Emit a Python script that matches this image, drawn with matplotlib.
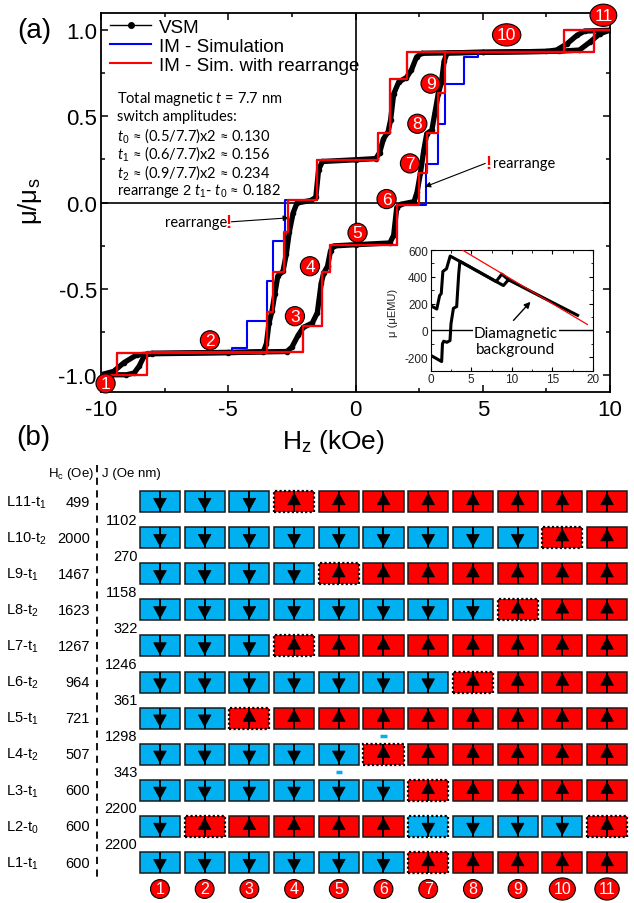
import numpy as np
import matplotlib.pyplot as plt
from matplotlib.patches import Rectangle, Polygon
from matplotlib.lines import Line2D
from matplotlib.ticker import MultipleLocator, FormatStrFormatter

plt.rcParams['font.family'] = ['Liberation Sans', 'DejaVu Sans']
plt.rcParams['axes.unicode_minus'] = False
plt.rcParams['mathtext.fontset'] = 'custom'
plt.rcParams['mathtext.rm'] = 'Liberation Sans'
plt.rcParams['mathtext.it'] = 'Lato:italic'
plt.rcParams['mathtext.sf'] = 'Liberation Sans'

# ---------------- panel (a) data ----------------
# VSM loop, field increasing (kOe) and normalized moment
vsm_h_up = [-10, -9.0, -8.7, -8.5, -8.3, -8.0, -5.0, -2.7, -2.5, -2.25, -2.05, -1.7, -1.5,
            -1.35, -1.25, -1.1, -0.98, -0.85, 0.0, 1.35, 1.5, 1.62, 1.8, 2.3, 2.42, 2.55,
            2.68, 2.8, 3.0, 3.12, 3.25, 3.38, 3.48, 3.6, 5.0, 8.0, 8.8, 9.2, 9.6, 10.0]
vsm_m_up = [-1.0, -1.0, -0.99, -0.95, -0.89, -0.875, -0.87, -0.865, -0.84, -0.77, -0.725,
            -0.70, -0.64, -0.47, -0.41, -0.37, -0.28, -0.252, -0.245, -0.235, -0.19, -0.03,
            -0.01, 0.005, 0.06, 0.17, 0.30, 0.40, 0.42, 0.52, 0.63, 0.70, 0.82, 0.868, 0.872,
            0.878, 0.885, 0.93, 0.98, 1.0]
# VSM loop, field decreasing
vsm_h_dn = [10, 9.0, 8.7, 8.3, 7.9, 7.5, 5.0, 2.6, 2.4, 2.2, 2.0, 1.7, 1.5, 1.38, 1.28, 1.1,
            0.95, 0.8, 0.0, -1.3, -1.45, -1.56, -1.75, -2.3, -2.45, -2.6, -2.72, -2.85, -3.05,
            -3.17, -3.28, -3.4, -3.5, -3.62, -5.0, -8.0, -8.6, -9.1, -9.5, -10.0]
vsm_m_dn = [1.0, 0.995, 0.97, 0.92, 0.885, 0.877, 0.872, 0.866, 0.845, 0.77, 0.725, 0.70,
            0.63, 0.48, 0.41, 0.37, 0.29, 0.255, 0.248, 0.238, 0.19, 0.03, 0.012, -0.003,
            -0.06, -0.17, -0.30, -0.40, -0.425, -0.53, -0.63, -0.70, -0.82, -0.866, -0.872,
            -0.878, -0.885, -0.93, -0.98, -1.0]

# IM simulation (step curves)
sim_h_up = [-10, -8.2, -2.06, -1.33, -1.0, 1.62, 2.77, 3.23, 3.52, 4.26, 4.8, 9.37, 10]
sim_m_up = [-1.0, -0.87, -0.714, -0.402, -0.246, -0.012, 0.222, 0.456, 0.69, 0.846, 0.872, 1.0, 1.0]
sim_h_dn = [10, 8.2, 2.02, 1.36, 0.89, -1.52, -2.77, -3.23, -3.49, -4.28, -4.84, -9.38, -10]
sim_m_dn = [1.0, 0.872, 0.714, 0.402, 0.246, 0.012, -0.222, -0.456, -0.69, -0.846, -0.872, -1.0, -1.0]

# IM simulation with rearrange
rea_h_up = [-10, -8.2, -2.06, -1.33, -1.0, 1.62, 2.5, 2.8, 3.24, 3.52, 9.37, 10]
rea_m_up = [-1.0, -0.87, -0.714, -0.402, -0.246, -0.012, 0.17, 0.404, 0.638, 0.872, 1.0, 1.0]
rea_h_dn = [10, 8.2, 2.02, 1.36, 0.89, -1.52, -2.65, -2.82, -3.25, -3.47, -9.38, -10]
rea_m_dn = [1.0, 0.872, 0.714, 0.402, 0.246, 0.012, -0.17, -0.404, -0.638, -0.872, -1.0, -1.0]

# numbered states on the loop
state_h = [-9.82, -5.72, -2.38, -1.79, 0.08, 1.22, 2.14, 2.43, 2.95, 5.94, 9.74]
state_m = [-1.05, -0.80, -0.66, -0.37, -0.176, 0.02, 0.227, 0.457, 0.69, 0.973, 1.087]

# inset: raw moment (uEMU) vs field (kOe)
ins_h_a = [0.0, 0.75, 1.1, 1.3, 1.5, 1.95, 2.4, 5.0, 8.06, 8.96, 9.58, 14.0, 18.1]
ins_m_a = [185, 160, 260, 275, 440, 460, 555, 468, 365, 335, 378, 240, 113]
ins_h_b = [0.0, 1.35, 1.45, 1.6, 2.0, 2.38, 2.5, 2.8, 3.2, 3.45, 3.6, 8.06, 8.76, 9.58]
ins_m_b = [-185, -232, -100, -80, -88, -75, 50, 165, 178, 420, 516, 365, 420, 378]
bg_h = [3.9, 19.3]
bg_m = [600, 45]

text_lines = ['Total magnetic $\\mathit{t}$ = 7.7 nm',
              'switch amplitudes:',
              '$\\mathit{t_0}$ \u2248 (0.5/7.7)x2 \u2248 0.130',
              '$\\mathit{t_1}$ \u2248 (0.6/7.7)x2 \u2248 0.156',
              '$\\mathit{t_2}$ \u2248 (0.9/7.7)x2 \u2248 0.234',
              'rearrange $\\mathit{2\\ t_1}$- $\\mathit{t_0}$ \u2248 0.182']

# ---------------- panel (b) data ----------------
layer_t = ['1', '0', '1', '2', '1', '2', '1', '2', '1', '2', '1']  # L1 .. L11
hc = [600, 600, 600, 507, 721, 964, 1267, 1623, 1467, 2000, 499]
jex = [2200, 2200, 343, 1298, 361, 1246, 322, 1158, 270, 1102]  # between L(i) and L(i+1)
states = ['DDDDDDUUUUU',
          'DUUUUUDDDDU',
          'DDDDDDUUUUU',
          'DDDDDUUUUUU',
          'DDUUUUUUUUU',
          'DDDDDDDUUUU',
          'DDDUUUUUUUU',
          'DDDDDDDDUUU',
          'DDDDUUUUUUU',
          'DDDDDDDDDUU',
          'DDDUUUUUUUU']
minus_marks = [(4, 6), (3, 5)]  # (layer, state)

RED = '#FF0000'
CYAN = '#00B0F0'
BLUE = '#0000FF'

fig = plt.figure(figsize=(6.34, 9.04), dpi=100)
W, H = 634, 904


def fig_rect(x0, y0, x1, y1):
    return [x0 / W, 1 - y1 / H, (x1 - x0) / W, (y1 - y0) / H]


# ---------------- panel (a) ----------------
ax = fig.add_axes(fig_rect(101, 14, 610, 393))
ax.set_xlim(-10, 10)
ax.set_ylim(-1.1, 1.1)
ax.axhline(0, color='k', lw=1.2, zorder=1)
ax.axvline(0, color='k', lw=1.2, zorder=1)

ax.plot(vsm_h_up, vsm_m_up, '-o', color='k', lw=3.8, ms=3, zorder=2)
ax.plot(vsm_h_dn, vsm_m_dn, '-o', color='k', lw=3.8, ms=3, zorder=2)
ax.step(sim_h_up, sim_m_up, where='post', color=BLUE, lw=1.5, zorder=3)
ax.step(sim_h_dn, sim_m_dn, where='post', color=BLUE, lw=1.5, zorder=3)
ax.step(rea_h_up, rea_m_up, where='post', color=RED, lw=1.6, zorder=4)
ax.step(rea_h_dn, rea_m_dn, where='post', color=RED, lw=1.6, zorder=4)

for i, (x, y) in enumerate(zip(state_h, state_m)):
    n = i + 1
    style = 'circle,pad=0.12' if n < 10 else 'ellipse,pad=0.02'
    ax.text(x, y, str(n), ha='center', va='center', color='white', fontsize=12.5,
            zorder=6, clip_on=False,
            bbox=dict(boxstyle=style, fc=RED, ec='k', lw=0.8))

ax.xaxis.set_major_locator(MultipleLocator(5))
ax.xaxis.set_minor_locator(MultipleLocator(2.5))
ax.yaxis.set_major_locator(MultipleLocator(0.5))
ax.yaxis.set_minor_locator(MultipleLocator(0.25))
ax.yaxis.set_major_formatter(FormatStrFormatter('%.1f'))
ax.tick_params(which='both', direction='in', top=True, right=True, width=1.1,
               labelsize=16)
ax.tick_params(which='major', length=5)
ax.tick_params(which='minor', length=3.2)
ax.tick_params(axis='x', pad=5)
ax.tick_params(axis='y', pad=3)
for s in ax.spines.values():
    s.set_linewidth(1.3)

ax.text(-0.14, 0.507, '\u03bc/\u03bc$_\\mathrm{s}$', transform=ax.transAxes, rotation=90,
        ha='center', va='center', fontsize=18.5)
ax.text(0.456, -0.128, 'H$_\\mathrm{z}$ (kOe)', transform=ax.transAxes,
        ha='center', va='center', fontsize=19)

handles = [Line2D([], [], color='k', lw=1, marker='o', ms=4),
           Line2D([], [], color=BLUE, lw=1.5),
           Line2D([], [], color=RED, lw=1.5)]
ax.legend(handles, ['VSM', 'IM - Simulation', 'IM - Sim. with rearrange'],
          loc='upper left', bbox_to_anchor=(0.018, 0.985), frameon=False,
          fontsize=13.5, handlelength=2.2, handletextpad=0.4, labelspacing=0.1,
          borderpad=0, borderaxespad=0)

for i, line in enumerate(text_lines):
    py = 98.5 + i * 18.4
    ax.text((117 - 101) / 509, (393 - py) / 379, line, transform=ax.transAxes,
            ha='left', va='center', fontsize=10.5, family=['Lato', 'DejaVu Sans'])

# rearrange annotations
ax.text(-5.05, -0.116, 'rearrange', ha='right', va='center', fontsize=10.5,
        family=['Lato', 'DejaVu Sans'])
ax.text(-4.98, -0.118, '!', ha='center', va='center', fontsize=13, color=RED,
        fontweight='bold')
ax.annotate('', xy=(-2.62, -0.089), xytext=(-4.88, -0.112),
            arrowprops=dict(arrowstyle='-|>', color='k', lw=0.8, mutation_scale=8,
                            shrinkA=0, shrinkB=0))
ax.text(5.22, 0.228, '!', ha='center', va='center', fontsize=13, color=RED,
        fontweight='bold')
ax.text(5.39, 0.232, 'rearrange', ha='left', va='center', fontsize=10.5,
        family=['Lato', 'DejaVu Sans'])
ax.annotate('', xy=(2.73, 0.091), xytext=(5.1, 0.227),
            arrowprops=dict(arrowstyle='-|>', color='k', lw=0.8, mutation_scale=8,
                            shrinkA=0, shrinkB=0))

# inset
axin = fig.add_axes(fig_rect(430.7, 251, 593, 371.7))
axin.set_xlim(0, 20)
axin.set_ylim(-300, 600)
axin.axhline(0, color='k', lw=1, zorder=1)
axin.plot(ins_h_a, ins_m_a, '-', color='k', lw=2.2, zorder=3)
axin.plot(ins_h_b, ins_m_b, '-', color='k', lw=2.2, zorder=3)
axin.plot(bg_h, bg_m, '-', color=RED, lw=0.9, zorder=4)
axin.xaxis.set_major_locator(MultipleLocator(5))
axin.xaxis.set_minor_locator(MultipleLocator(2.5))
axin.yaxis.set_major_locator(MultipleLocator(200))
axin.yaxis.set_minor_locator(MultipleLocator(100))
axin.tick_params(which='both', direction='in', top=True, right=True, labelsize=8.5,
                 labelcolor='#222222', pad=2)
axin.tick_params(which='major', length=3)
axin.tick_params(which='minor', length=1.8)
axin.text(10.5, -78, 'Diamagnetic\nbackground', ha='center', va='center', fontsize=11,
          family=['Lato', 'DejaVu Sans'], linespacing=1.25, zorder=5,
          bbox=dict(fc='white', ec='none', pad=1))
axin.annotate('', xy=(12.3, 214), xytext=(10.2, 75),
              arrowprops=dict(arrowstyle='-|>', color='k', lw=1, mutation_scale=9,
                              shrinkA=0, shrinkB=0))
axin.text(-0.232, 0.49, '\u03bc (\u03bcEMU)', transform=axin.transAxes, rotation=90,
          ha='center', va='center', fontsize=8, color='#222222')

fig.text(34 / W, 1 - 31 / H, '(a)', ha='center', va='center', fontsize=20)
fig.text(33 / W, 1 - 438 / H, '(b)', ha='center', va='center', fontsize=20)

# ---------------- panel (b) ----------------
axb = fig.add_axes(fig_rect(137.6, 484.5, 629.4, 881.6))
axb.set_xlim(0.5, 11.5)
axb.set_ylim(0.5, 11.5)
axb.axis('off')


def bx(px):
    return 0.5 + (px - 137.6) / 44.7


def by(py):
    return 0.5 + (881.6 - py) / 36.1


bw, bh = 0.895, 0.58
hw, hh = 0.142, 0.32
for li, row in enumerate(states):
    r = li + 1
    for ci, s in enumerate(row):
        c = ci + 1
        switched = ci > 0 and row[ci - 1] != s
        fc = RED if s == 'U' else CYAN
        if switched:
            axb.add_patch(Rectangle((c - bw / 2, r - bh / 2), bw, bh, fc=fc, ec='k',
                                    lw=1.6, ls=(0, (1, 1)), zorder=2))
        else:
            axb.add_patch(Rectangle((c - bw / 2, r - bh / 2), bw, bh, fc=fc, ec='#1a1a1a',
                                    lw=1.1, zorder=2))
        axb.plot([c, c], [r - bh / 2, r + bh / 2], color='k', lw=1.4, zorder=3,
                 solid_capstyle='butt')
        if s == 'U':
            tip = r + bh / 2 - 0.06
            tri = [(c, tip), (c - hw, tip - hh), (c + hw, tip - hh)]
        else:
            tip = r - bh / 2 + 0.06
            tri = [(c, tip), (c - hw, tip + hh), (c + hw, tip + hh)]
        axb.add_patch(Polygon(tri, closed=True, fc='k', ec='k', lw=0.5, zorder=4))

    axb.text(bx(6), r, 'L%d-t$_{%s}$' % (r, layer_t[li]), ha='left', va='center',
             fontsize=10.5, clip_on=False)
    axb.text(bx(90), r, str(hc[li]), ha='right', va='center', fontsize=10.5,
             clip_on=False)

for i, j in enumerate(jex):
    axb.text(bx(137.5), i + 1.5, str(j), ha='right', va='center', fontsize=10.5,
             clip_on=False)

for layer, st in minus_marks:
    axb.plot([st - 0.07, st + 0.07], [layer + 0.5, layer + 0.5], color=CYAN, lw=2.5,
             solid_capstyle='butt', clip_on=False)

axb.text(bx(94), by(474), 'H$_\\mathrm{c}$ (Oe)', ha='right', va='center', fontsize=9.5,
         clip_on=False)
axb.text(bx(102), by(474), 'J (Oe nm)', ha='left', va='center', fontsize=9.5,
         clip_on=False)
axb.plot([bx(97), bx(97)], [by(466), by(880)], color='k', lw=1.3, ls=(0, (4, 3)),
         clip_on=False)

for c in range(1, 12):
    style = 'circle,pad=0.12' if c < 10 else 'ellipse,pad=0.02'
    axb.text(c, by(890), str(c), ha='center', va='center', color='white', fontsize=11.5,
             clip_on=False, zorder=5,
             bbox=dict(boxstyle=style, fc=RED, ec='k', lw=0.8))

fig.savefig('out.png', dpi=100)
